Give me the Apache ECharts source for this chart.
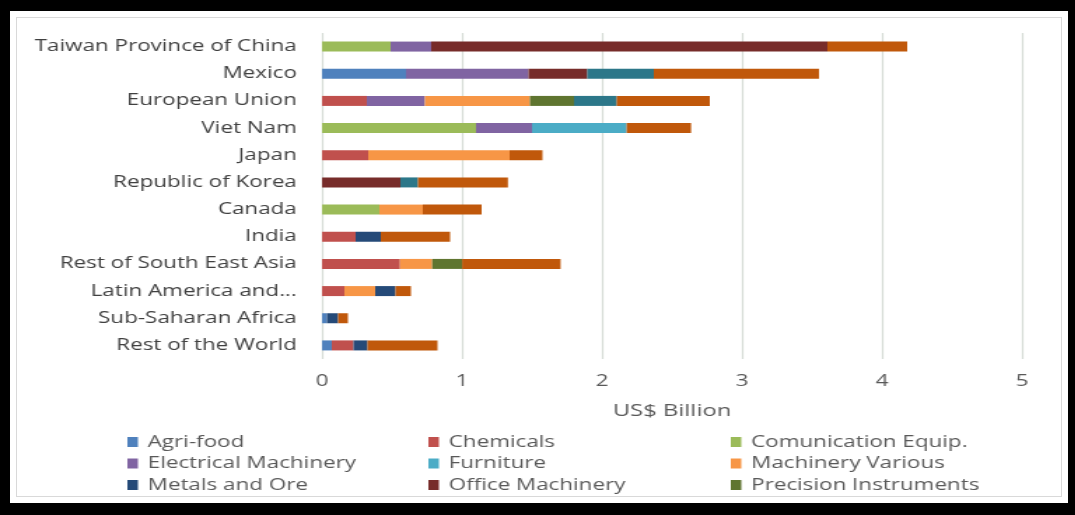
<!DOCTYPE html>
<html>
<head>
<meta charset="utf-8">
<script src="https://cdn.jsdelivr.net/npm/echarts@6/dist/echarts.min.js"></script>
<style>
html,body{margin:0;padding:0;background:#000;overflow:hidden;}
#frame{position:absolute;left:0;top:0;width:1075px;height:515px;background:#000;}
#paper{position:absolute;left:10px;top:11px;width:1058px;height:492px;background:#fff;}
#inner{position:absolute;left:16px;top:17px;width:1044px;height:478px;border:1px solid #d9d9d9;}
#chart{position:absolute;left:0;top:0;width:768px;height:515px;transform:scaleX(1.4);transform-origin:0 0;}
</style>
</head>
<body>
<div id="frame"><div id="paper"></div><div id="inner"></div><div id="chart"></div></div>
<script>
var categories = ["Taiwan Province of China","Mexico","European Union","Viet Nam","Japan","Republic of Korea","Canada","India","Rest of South East Asia","Latin America and...","Sub-Saharan Africa","Rest of the World"];
var xTicks = [0,1,2,3,4,5];

var agriFood     = [0,0.6,0,0,0,0,0,0,0,0,0.035,0.07];
var chemicals    = [0,0,0.32,0,0.33,0,0,0.24,0.557,0.16,0,0.155];
var comEquip     = [0.49,0,0,1.1,0,0,0.41,0,0,0,0,0];
var elecMach     = [0.29,0.875,0.415,0.40,0,0,0,0,0,0,0,0];
var furniture    = [0,0,0,0.676,0,0,0,0,0,0,0,0];
var machVarious  = [0,0,0.75,0,1.01,0,0.31,0,0.23,0.22,0,0];
var metalsOre    = [0,0,0,0,0,0,0,0.18,0,0.145,0.08,0.1];
var officeMach   = [2.83,0.42,0,0,0,0.56,0,0,0,0,0,0];
var precision    = [0,0,0.315,0,0,0,0,0,0.214,0,0,0];
var otherTeal    = [0,0.475,0.305,0,0,0.125,0,0,0,0,0,0];
var otherOrange  = [0.57,1.18,0.665,0.46,0.235,0.643,0.42,0.495,0.703,0.11,0.07,0.5];

var seriesDefs = [
  ["Agri-food", agriFood, "#4F81BD"],
  ["Chemicals", chemicals, "#C0504D"],
  ["Comunication Equip.", comEquip, "#9BBB59"],
  ["Electrical Machinery", elecMach, "#8064A2"],
  ["Furniture", furniture, "#4BACC6"],
  ["Machinery Various", machVarious, "#F79646"],
  ["Metals and Ore", metalsOre, "#254A78"],
  ["Office Machinery", officeMach, "#772C2A"],
  ["Precision Instruments", precision, "#5F7530"],
  ["Other (a)", otherTeal, "#2C7789"],
  ["Other (b)", otherOrange, "#C0580B"]
];

var chart = echarts.init(document.getElementById('chart'));
var txt = '#595959';
var font = '"Open Sans", sans-serif';

function legendCol(names, left){
  return {
    orient:'vertical', left:left, top:429, itemWidth:7.5, itemHeight:10, itemGap:5.5,
    icon:'rect', data:names,
    textStyle:{color:txt, fontSize:16, fontFamily:font, padding:[0,0,0,2]},
    selectedMode:false
  };
}

chart.setOption({
  backgroundColor:'transparent',
  animation:false,
  legend:[
    legendCol(["Agri-food","Electrical Machinery","Metals and Ore"],86),
    legendCol(["Chemicals","Furniture","Office Machinery"],301),
    legendCol(["Comunication Equip.","Machinery Various","Precision Instruments"],517)
  ],
  grid:{left:230, right:38, top:33, bottom:156, containLabel:false},
  xAxis:{
    type:'value', min:xTicks[0], max:xTicks[xTicks.length-1], interval:1,
    axisLine:{show:false}, axisTick:{show:false},
    splitLine:{show:true, lineStyle:{color:'#d5dbd5', width:1.2}},
    axisLabel:{color:txt, fontSize:16, fontFamily:font, margin:14},
    name:'US$ Billion', nameLocation:'middle', nameGap:44,
    nameTextStyle:{color:txt, fontSize:17, fontFamily:font}
  },
  yAxis:{
    type:'category', data:categories, inverse:true,
    axisLine:{show:false}, axisTick:{show:false},
    axisLabel:{color:'#404040', fontSize:16, fontFamily:font, margin:18}
  },
  series: seriesDefs.map(function(d){
    return {
      name:d[0], type:'bar', stack:'total', data:d[1], barWidth:10,
      itemStyle:{color:d[2]}
    };
  })
});
</script>
</body>
</html>
